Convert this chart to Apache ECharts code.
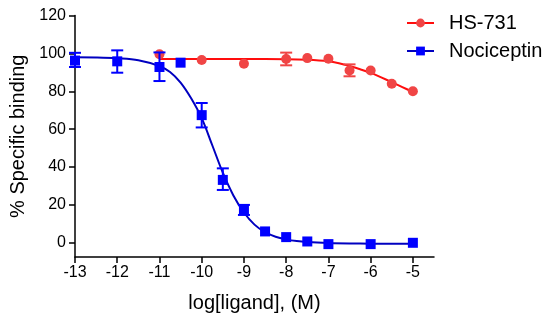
<!DOCTYPE html>
<html><head><meta charset="utf-8">
<script src="https://cdn.jsdelivr.net/npm/echarts@6/dist/echarts.min.js"></script>
<style>html,body{margin:0;padding:0;background:#fff}#c{width:550px;height:321px}</style>
</head><body><div id="c"></div>
<script>
// Tick labels
const xTicks = [-13, -12, -11, -10, -9, -8, -7, -6, -5];
const yTicks = [0, 20, 40, 60, 80, 100, 120];

// HS-731 measured points
const hsX = [-11, -10, -9, -8, -7.5, -7, -6.5, -6, -5.5, -5];
const hsY = [99.5, 96.5, 94.5, 97, 97.5, 97.2, 91, 91, 84, 80];
const hsErrLow  = [null, null, null, 93.7, null, null, 87.9, null, null, null];
const hsErrHigh = [null, null, null, 100.4, null, null, 94.2, null, null, null];
// HS-731 fitted curve
const hsFitX = [-11, -10, -9, -8, -7.5, -7, -6.75, -6.5, -6.25, -6, -5.75, -5.5, -5.25, -5];
const hsFitY = [97, 97, 97, 96.9, 96.6, 95.8, 94.8, 93.3, 91.6, 89.7, 87.3, 84.8, 82.2, 79.6];

// Nociceptin measured points
const noX = [-13, -12, -11, -10.5, -10, -9.5, -9, -8.5, -8, -7.5, -7, -6, -5];
const noY = [96.2, 95.8, 92.8, 95.1, 67.4, 33.2, 17.4, 6, 3, 0.7, -0.7, -0.7, 0];
const noErrLow  = [92.8, 89.8, 85.4, null, 60.9, 27.9, 14.7, null, null, null, null, null, null];
const noErrHigh = [100.3, 101.6, 100.5, null, 73.8, 39.3, 20.0, null, null, null, null, null, null];
// Nociceptin fitted curve
const noFitX = [-13, -12.5, -12, -11.5, -11, -10.75, -10.5, -10.25, -10, -9.75, -9.5, -9.25, -9, -8.75, -8.5, -8.25, -8, -7.75, -7.5, -7, -6.5, -6, -5.5, -5];
const noFitY = [97.9, 97.8, 97.4, 96.4, 93.3, 90.2, 84.6, 76.3, 65.8, 51.5, 37, 25, 16, 9.6, 5.6, 3.2, 1.8, 0.9, 0.4, -0.1, -0.35, -0.45, -0.5, -0.5];

const FONT = 'Liberation Sans, Arial, sans-serif';
const RED_LINE = '#ff0d0d', RED_MK = '#f04545';
const BLUE_LINE = '#0000c0', BLUE_MK = '#0000ff';

function zip(a, b) { return a.map((v, i) => [v, b[i]]); }
function errData(xs, lo, hi) {
  const out = [];
  xs.forEach((x, i) => { if (lo[i] != null) out.push([x, lo[i], hi[i]]); });
  return out;
}
function errSeries(name, data, color, z) {
  return {
    name: name, type: 'custom', z: z, silent: true,
    encode: { x: 0, y: [1, 2] },
    data: data,
    renderItem: function (params, api) {
      const x = api.value(0);
      const lo = api.coord([x, api.value(1)]);
      const hi = api.coord([x, api.value(2)]);
      const w = 6;
      const st = { stroke: color, lineWidth: 2 };
      return {
        type: 'group',
        children: [
          { type: 'line', shape: { x1: lo[0], y1: lo[1], x2: hi[0], y2: hi[1] }, style: st },
          { type: 'line', shape: { x1: lo[0] - w, y1: lo[1], x2: lo[0] + w, y2: lo[1] }, style: st },
          { type: 'line', shape: { x1: hi[0] - w, y1: hi[1], x2: hi[0] + w, y2: hi[1] }, style: st }
        ]
      };
    }
  };
}

const chart = echarts.init(document.getElementById('c'), null, { renderer: 'canvas' });
chart.setOption({
  animation: false,
  backgroundColor: '#fff',
  textStyle: { fontFamily: FONT },
  grid: { left: 75, right: 116, top: 15.5, bottom: 64, containLabel: false },
  legend: {
    orient: 'vertical', left: 406, top: 13, padding: 0,
    itemWidth: 27, itemHeight: 11, itemGap: 8,
    data: ['HS-731', 'Nociceptin'],
    textStyle: { fontSize: 20, lineHeight: 20, color: '#000', fontFamily: FONT, padding: [0, 0, 0, 10] }
  },
  xAxis: {
    type: 'value', min: -13, max: -4.5,
    name: 'log[ligand], (M)', nameLocation: 'middle', nameGap: 36,
    nameTextStyle: { fontSize: 20, color: '#000', fontFamily: FONT },
    axisLine: { show: true, onZero: false, lineStyle: { color: '#000', width: 1.5 } },
    axisTick: { show: true, length: 6, customValues: xTicks, lineStyle: { color: '#000', width: 1.5 } },
    axisLabel: { customValues: xTicks, fontSize: 16, color: '#000', margin: 8, fontFamily: FONT },
    splitLine: { show: false }
  },
  yAxis: {
    type: 'value', min: -7.5, max: 120,
    name: '% Specific binding', nameLocation: 'middle', nameGap: 44,
    nameTextStyle: { fontSize: 20, color: '#000', fontFamily: FONT },
    axisLine: { show: true, onZero: false, lineStyle: { color: '#000', width: 1.5 } },
    axisTick: { show: true, length: 6, customValues: yTicks, lineStyle: { color: '#000', width: 1.5 } },
    axisLabel: { customValues: yTicks, fontSize: 16, color: '#000', margin: 9, fontFamily: FONT },
    splitLine: { show: false }
  },
  series: [
    {
      name: 'HS-731', type: 'line', data: zip(hsFitX, hsFitY), z: 2,
      smooth: 0.35, showSymbol: false, symbol: 'circle',
      lineStyle: { color: RED_LINE, width: 2 }, itemStyle: { color: RED_MK }
    },
    errSeries('HS-731', errData(hsX, hsErrLow, hsErrHigh), RED_MK, 3),
    {
      name: 'HS-731', type: 'scatter', data: zip(hsX, hsY), z: 4,
      symbol: 'circle', symbolSize: 10, itemStyle: { color: RED_MK, opacity: 1 }
    },
    {
      name: 'Nociceptin', type: 'line', data: zip(noFitX, noFitY), z: 5,
      smooth: 0.35, showSymbol: false, symbol: 'rect',
      lineStyle: { color: BLUE_LINE, width: 2 }, itemStyle: { color: BLUE_MK }
    },
    errSeries('Nociceptin', errData(noX, noErrLow, noErrHigh), BLUE_MK, 6),
    {
      name: 'Nociceptin', type: 'scatter', data: zip(noX, noY), z: 7,
      symbol: 'rect', symbolSize: 10, itemStyle: { color: BLUE_MK, opacity: 1 }
    }
  ]
});
</script></body></html>
